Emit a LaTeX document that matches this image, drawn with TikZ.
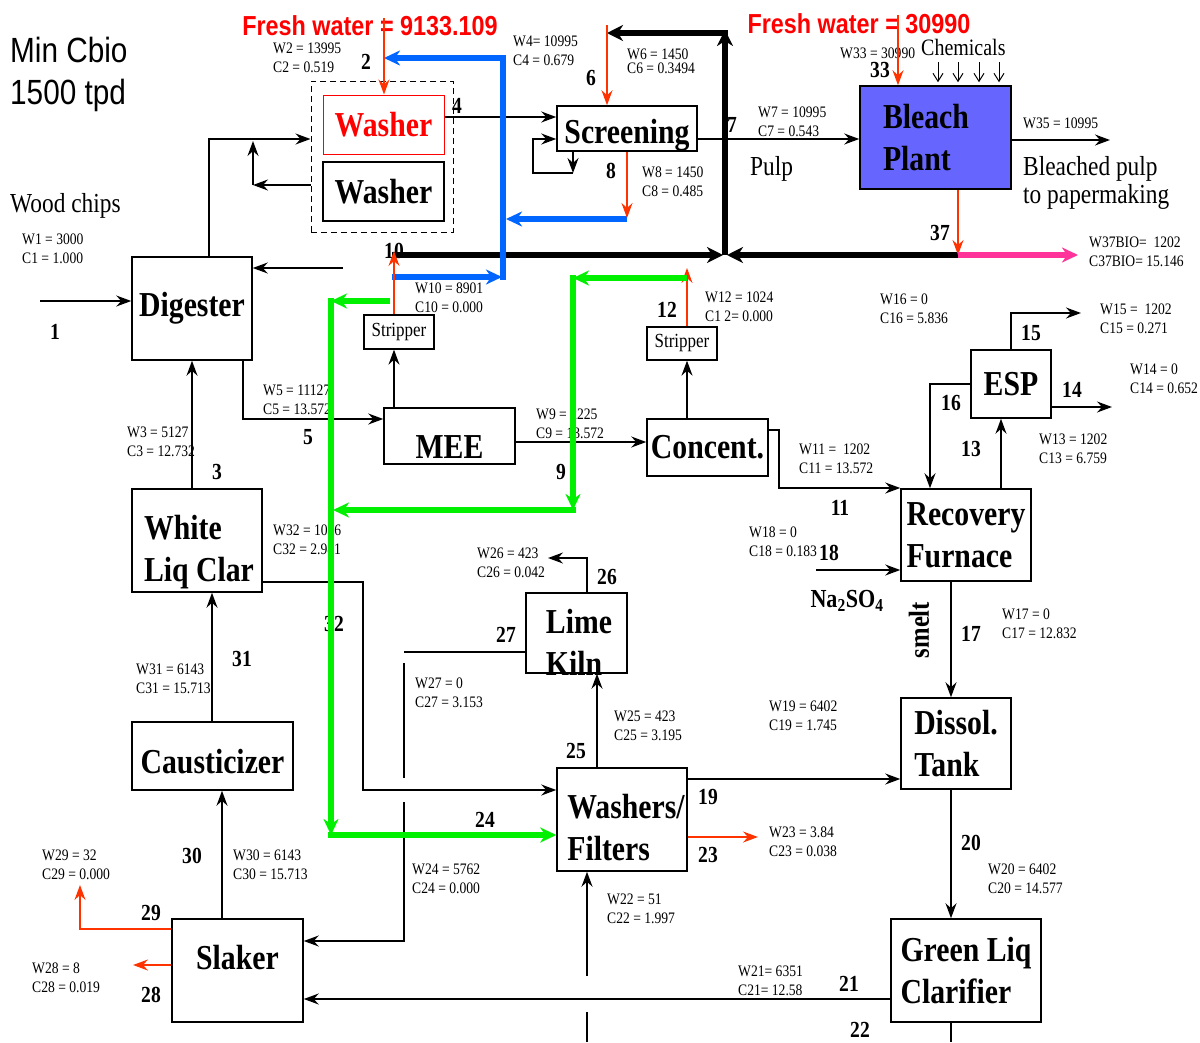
\documentclass[tikz,border=0pt]{standalone}
\usepackage{fontspec}
\setmainfont[FakeStretch=0.85]{Liberation Serif}
\newfontfamily\headfont[FakeStretch=0.85]{Liberation Sans}
\usetikzlibrary{arrows.meta,calc}
\definecolor{freshred}{RGB}{255,0,0}
\definecolor{flowred}{RGB}{255,51,0}
\definecolor{recblue}{RGB}{0,102,255}
\definecolor{liqgreen}{RGB}{0,240,0}
\definecolor{biopink}{RGB}{255,51,153}
\definecolor{bleachfill}{RGB}{102,102,255}

\tikzset{
  unit/.style={draw, line width=1.5pt, inner sep=2pt, align=left,
    font=\fontsize{35}{42}\selectfont\bfseries},
  unitlbl/.style={inner sep=0pt, align=left, font=\fontsize{35}{42}\selectfont\bfseries},
  stripper/.style={draw, line width=1.3pt, inner sep=1pt, font=\fontsize{20}{20}\selectfont},
  wc/.style={anchor=west, inner sep=0pt, align=left, font=\fontsize{16}{19}\selectfont},
  num/.style={inner sep=0pt, font=\fontsize{23}{23}\selectfont\bfseries},
  txt/.style={anchor=base west, inner sep=0pt, font=\fontsize{27.5}{33}\selectfont},
  fresh/.style={inner sep=0pt, text=freshred, font=\headfont\fontsize{27.5}{30}\selectfont\bfseries},
  flow/.style={line width=1.5pt},
  redflow/.style={line width=1.5pt, draw=flowred},
  blackflow/.style={line width=6pt, -{Stealth[length=16pt,width=16pt,inset=5pt]}},
  blueflow/.style={line width=5.5pt, draw=recblue, -{Stealth[length=16pt,width=15pt,inset=5pt]}},
  greenflow/.style={line width=5.5pt, draw=liqgreen, -{Stealth[length=16pt,width=15pt,inset=5pt]}},
  pinkflow/.style={line width=5.5pt, draw=biopink, -{Stealth[length=16pt,width=15pt,inset=5pt]}},
  chem/.style={line width=1pt, -{Straight Barb[length=8pt,width=10pt]}}
}

\begin{document}
\begin{tikzpicture}[x=1pt,y={(0pt,-1pt)},>={Stealth[length=15pt,width=11pt,inset=5pt]}]
\useasboundingbox (0,0) rectangle (1200,1042);

% process units
\node[unit, minimum width=120, minimum height=103] (dig) at (192,308.5) {Digester};
\node[unit, draw=freshred, text=freshred, line width=1pt, minimum width=121, minimum height=59] (wash1) at (383.5,124.5) {Washer};
\node[unit, minimum width=121, minimum height=59] (wash2) at (383.5,191.5) {Washer};
\node[draw, line width=1pt, dash pattern=on 6pt off 4pt, inner sep=0pt, minimum width=142, minimum height=151] (wgrp) at (382,156.5) {};
\node[unit, text height=30pt, text depth=0pt, minimum width=140, minimum height=45] (scr) at (627,128.5) {Screening};
\node[unit, fill=bleachfill, text width=105, minimum width=151, minimum height=103] (bp) at (935.5,137.5) {Bleach\\Plant};
\node[stripper, minimum width=70, minimum height=34] (strL) at (399,332) {Stripper};
\node[stripper, minimum width=70, minimum height=33] (strR) at (682,343.5) {Stripper};
\node[unit, text height=44pt, text depth=0pt, minimum width=131, minimum height=56] (mee) at (449.5,436) {MEE};
\node[unit, minimum width=121, minimum height=57] (con) at (707.5,447.5) {Concent.};
\node[unit, minimum width=80, minimum height=68] (esp) at (1011,384) {ESP};
\node[unit, minimum width=130, minimum height=92] (rec) at (966,535) {Recovery\\Furnace};
\node[unit, minimum width=130, minimum height=103] (wlc) at (197,540.5) {};
\node[unitlbl] (wlcl) at (199,552) {White\\Liq Clar};
\node[unit, minimum width=101, minimum height=80] (kiln) at (576.5,633) {};
\node[unitlbl] (kilnl) at (579,642) {Lime\\Kiln};
\node[unit, text height=34pt, text depth=0pt, minimum width=161, minimum height=68] (caus) at (212.5,756) {Causticizer};
\node[unit, minimum width=130, minimum height=103] (wf) at (622,819.5) {};
\node[unitlbl] (wfl) at (626,827.5) {Washers/\\Filters};
\node[unit, minimum width=110, minimum height=91] (dis) at (956,743.5) {Dissol.\\Tank};
\node[unit, text depth=26pt, minimum width=131, minimum height=103] (slk) at (237.5,970.5) {Slaker};
\node[unit, minimum width=150, minimum height=103] (glc) at (966,970.5) {Green Liq\\Clarifier};

% titles and free texts
\node[anchor=north west, inner sep=0pt, align=left, font=\headfont\fontsize{35}{42}\selectfont] (title) at (10,37) {Min Cbio\\1500 tpd};
\node[fresh] (fw2lbl) at (370,26) {Fresh water = 9133.109};
\node[fresh] (fw33lbl) at (859,24) {Fresh water = 30990};
\node[txt] (chips) at (10,212) {Wood chips};
\node[txt] (pulp) at (750,175) {Pulp};
\node[txt] (bpulp1) at (1023,175) {Bleached pulp};
\node[txt] (bpulp2) at (1023,203) {to papermaking};
\node[txt, font=\fontsize{23.5}{26}\selectfont] (chem) at (921,55) {Chemicals};
\node[num, font=\fontsize{26}{28}\selectfont\bfseries] (na) at (847,601) {Na\textsubscript{2}SO\textsubscript{4}};
\node[num, rotate=90, font=\fontsize{29}{29}\selectfont\bfseries] (smelt) at (919,630) {smelt};

% stream data
\foreach \n/\x/\y/\a/\b in {
  1/22/248.5/W1 = 3000/C1 = 1.000,
  2/273/58/W2 = 13995/C2 = 0.519,
  4/513/50.5/W4= 10995/C4 = 0.679,
  7/758/121.5/W7 = 10995/C7 = 0.543,
  8/642/181.5/W8 = 1450/C8 = 0.485,
  37/1089/252/W37BIO=\ \ 1202/C37BIO= 15.146,
  10/415/297.5/W10 = 8901/C10 = 0.000,
  12/705/306.5/W12 = 1024/C1 2= 0.000,
  16/880/309/W16 = 0/C16 = 5.836,
  15/1100/318.5/W15 =\ \ 1202/C15 = 0.271,
  14/1130/378.5/W14 = 0/C14 = 0.652,
  5/263/400/W5 = 11127/C5 = 13.572,
  3/127/441.5/W3 = 5127/C3 = 12.732,
  9/536/423.5/W9 = 2225/C9 = 13.572,
  13/1039/448.5/W13 = 1202/C13 = 6.759,
  11/799/458.5/W11 =\ \ 1202/C11 = 13.572,
  32/273/539.5/W32 = 1016/C32 = 2.981,
  18/749/541.5/W18 = 0/C18 = 0.183,
  26/477/562.5/W26 = 423/C26 = 0.042,
  17/1002/623.5/W17 = 0/C17 = 12.832,
  31/136/678.5/W31 = 6143/C31 = 15.713,
  27/415/692.5/W27 = 0/C27 = 3.153,
  19/769/716/W19 = 6402/C19 = 1.745,
  25/614/725.5/W25 = 423/C25 = 3.195,
  23/769/841.5/W23 = 3.84/C23 = 0.038,
  29/42/864.5/W29 = 32/C29 = 0.000,
  30/233/864.5/W30 = 6143/C30 = 15.713,
  20/988/878.5/W20 = 6402/C20 = 14.577,
  24/412/878.5/W24 = 5762/C24 = 0.000,
  22/607/908.5/W22 = 51/C22 = 1.997,
  21/738/980.5/W21= 6351/C21= 12.58,
  28/32/978/W28 = 8/C28 = 0.019}
  \node[wc] (wc\n) at (\x,\y) {\a\\\b};
\node[wc, font=\fontsize{16}{14}\selectfont] (wc6) at (627,61.5) {W6 = 1450\\C6 = 0.3494};
\node[wc] (wc33) at (840,53) {W33 = 30990};
\node[wc] (wc35) at (1023,123) {W35 = 10995};

% stream numbers
\foreach \n/\x/\y in {1/55/332, 2/366/62, 3/217/472, 4/457/106, 5/308/437, 6/591/78,
  7/732/125, 8/611/171, 9/561/472, 10/394/251, 11/840/508, 12/667/310, 13/971/449,
  14/1072/390, 15/1031/333, 16/951/403, 17/971/634, 18/829/553, 19/708/797,
  20/971/843, 21/849/984, 22/860/1030, 23/708/855, 24/485/820, 25/576/751,
  26/607/577, 27/506/635, 28/151/995, 29/151/913, 30/192/856, 31/242/659,
  32/334/624, 33/880/70, 37/940/233}
  \node[num] (n\n) at (\x,\y) {\n};

% black streams
\coordinate (in1) at (40,301);
\draw[flow,->] (in1) -- (in1 -| dig.west);
\coordinate (h2) at (0,139);
\coordinate (k1) at (253,185);
\coordinate (k2) at (253,141);
\draw[flow,->] ([xshift=17pt]dig.north) |- (wgrp.west |- h2);
\draw[flow,->] (wgrp.west |- k1) -- (k1);
\draw[flow,->] (k1) -- (k2);
\coordinate (d10) at (343,268);
\draw[flow,->] (d10) -- (d10 -| dig.east);
\draw[flow,->] (wlc.north -| dig.south) -- (dig.south);
\coordinate (c5) at (243,419);
\draw[flow,->] (dig.south -| c5) -- (c5) -- (c5 -| mee.west);
\draw[flow,->] ([xshift=-5pt]strL.south |- mee.north) -- ([xshift=-5pt]strL.south);
\coordinate (c4) at (0,117);
\draw[flow,->] (wash1.east |- c4) -- (scr.west |- c4);
\coordinate (r1) at (533,173);
\coordinate (r2) at (573,173);
\coordinate (r3) at (533,139);
\draw[flow,->] (scr.south -| r2) -- (r2);
\draw[flow,->] (r2) -- (r1) -- (r3) -- (r3 -| scr.west);
\draw[flow,->] (scr.east |- h2) -- (bp.west |- h2);
\foreach \cx in {938,958,979,999}
  \draw[chem, shorten >=3pt] (\cx,62) -- (bp.north -| \cx,0);
\coordinate (out35) at (1110,140);
\draw[flow,->] (bp.east |- out35) -- (out35);
\coordinate (c9) at (0,442);
\draw[flow,->] (mee.east |- c9) -- (con.west |- c9);
\draw[flow,->] ([xshift=5pt]strR.south |- con.north) -- ([xshift=5pt]strR.south);
\coordinate (c11) at (779,430);
\coordinate (c11b) at (779,488);
\draw[flow,->] (con.east |- c11) -- (c11) -- (c11b) -- (c11b -| rec.west);
\coordinate (in18) at (816,570);
\draw[flow,->] (in18) -- (in18 -| rec.west);
\coordinate (x13) at (1001,0);
\draw[flow,->] (rec.north -| x13) -- (esp.south -| x13);
\coordinate (c16) at (930,384);
\draw[flow,->] (esp.west) -- (c16) -- (c16 |- rec.north);
\coordinate (out14) at (1112,407);
\draw[flow,->] (esp.east |- out14) -- (out14);
\coordinate (c15) at (1011,313);
\coordinate (out15) at (1081,313);
\draw[flow,->] (esp.north) -- (c15) -- (out15);
\coordinate (x17) at (951,0);
\draw[flow,->] (rec.south -| x17) -- (dis.north -| x17);
\draw[flow,->] (dis.south -| x17) -- (glc.north -| x17);
\coordinate (out22) at (951,1042);
\draw[flow] (glc.south -| x17) -- (out22);
\coordinate (c21) at (0,999);
\draw[flow,->] (glc.west |- c21) -- (slk.east |- c21);
\coordinate (r22a) at (587,1042);
\coordinate (r22b) at (587,1012);
\coordinate (r22c) at (587,976);
\draw[flow] (r22a) -- (r22b);
\draw[flow,->] (r22c) -- (r22c |- wf.south);
\coordinate (c19) at (0,779);
\draw[flow,->] (wf.east |- c19) -- (dis.west |- c19);
\coordinate (x25) at (597,0);
\draw[flow,->] (wf.north -| x25) -- (kiln.south -| x25);
\coordinate (c26) at (587,558);
\coordinate (out26) at (548,558);
\draw[flow,->] (kiln.north -| c26) -- (c26) -- (out26);
\coordinate (c27) at (404,652);
\coordinate (c27b) at (404,663);
\coordinate (c27c) at (404,778);
\coordinate (c27d) at (404,802);
\coordinate (c27e) at (404,941);
\draw[flow] (kiln.west |- c27) -- (c27);
\draw[flow] (c27b) -- (c27c);
\draw[flow,->] (c27d) -- (c27e) -- (c27e -| slk.east);
\coordinate (c32) at (363,582);
\coordinate (c32b) at (363,790);
\draw[flow,->] (wlc.east |- c32) -- (c32) -- (c32b) -- (c32b -| wf.west);
\coordinate (x31) at (212,0);
\draw[flow,->] (caus.north -| x31) -- (wlc.south -| x31);
\coordinate (x30) at (222,0);
\draw[flow,->] (slk.north -| x30) -- (caus.south -| x30);

% heavy black recycle
\coordinate (t10) at (392,255);
\coordinate (tj) at (725,255);
\coordinate (t37) at (958,255);
\coordinate (ttop) at (725,33);
\coordinate (tend) at (607,33);
\draw[blackflow] (t10) -- ($(tj)+(-2,0)$);
\draw[blackflow] (t37) -- ($(tj)+(2,0)$);
\draw[blackflow] (tj) -- ($(ttop)+(0,-3)$);
\draw[blackflow] ($(ttop)+(3,0)$) -- (tend);

% blue wash water
\coordinate (b1) at (392,277);
\coordinate (b2) at (503,277);
\coordinate (b3) at (503,58);
\coordinate (b4) at (384,58);
\coordinate (b8) at (627,218);
\draw[blueflow] (b1) -- ($(b2)+(-1,0)$);
\draw[blueflow] ($(b2)+(0,3)$) -- (b3) -- (b4);
\draw[blueflow] ($(b8)+(0,1)$) -- ($(b3 |- b8)+(3,1)$);

% red streams
\coordinate (fw2) at (384,18);
\draw[redflow,->] (fw2) -- (fw2 |- wash1.north);
\coordinate (fw6) at (607,25);
\draw[redflow,->] (fw6) -- (fw6 |- scr.north);
\coordinate (fw33) at (898,15);
\draw[redflow,->] (fw33) -- (fw33 |- bp.north);
\draw[redflow,->] (scr.south -| b8) -- (b8);
\draw[redflow,->] (bp.south -| t37) -- (t37);
\coordinate (s10) at (394,251);
\draw[redflow,->] ([xshift=-5pt]strL.north) -- (s10);
\coordinate (s12) at (687,268);
\draw[redflow,->] ([xshift=5pt]strR.north) -- (s12);
\coordinate (c29) at (80,929);
\coordinate (out29) at (80,885);
\draw[redflow,->] (slk.west |- c29) -- (c29) -- (out29);
\coordinate (out28) at (133,965);
\draw[redflow,->] (slk.west |- out28) -- (out28);
\coordinate (out23) at (758,837);
\draw[redflow,->] (wf.east |- out23) -- (out23);

% bio stream
\coordinate (out37) at (1078,255);
\draw[pinkflow] (t37) -- (out37);

% green liquor / condensate
\coordinate (g1) at (390,301);
\coordinate (g2) at (331,301);
\coordinate (g3) at (331,835);
\draw[greenflow] (g1) -- (g2);
\draw[greenflow] ($(g2)+(0,-2.75)$) -- (g3);
\draw[greenflow] ($(g3)+(-2.75,0)$) -- (g3 -| wf.west);
\coordinate (g4) at (687,278);
\coordinate (g5) at (573,278);
\coordinate (g6) at (573,510);
\coordinate (g7) at (333,510);
\draw[greenflow] (g4) -- (g5);
\draw[greenflow] ($(g5)+(0,-2.75)$) -- (g6);
\draw[greenflow] ($(g6)+(2.75,0)$) -- (g7);
\end{tikzpicture}
\end{document}
